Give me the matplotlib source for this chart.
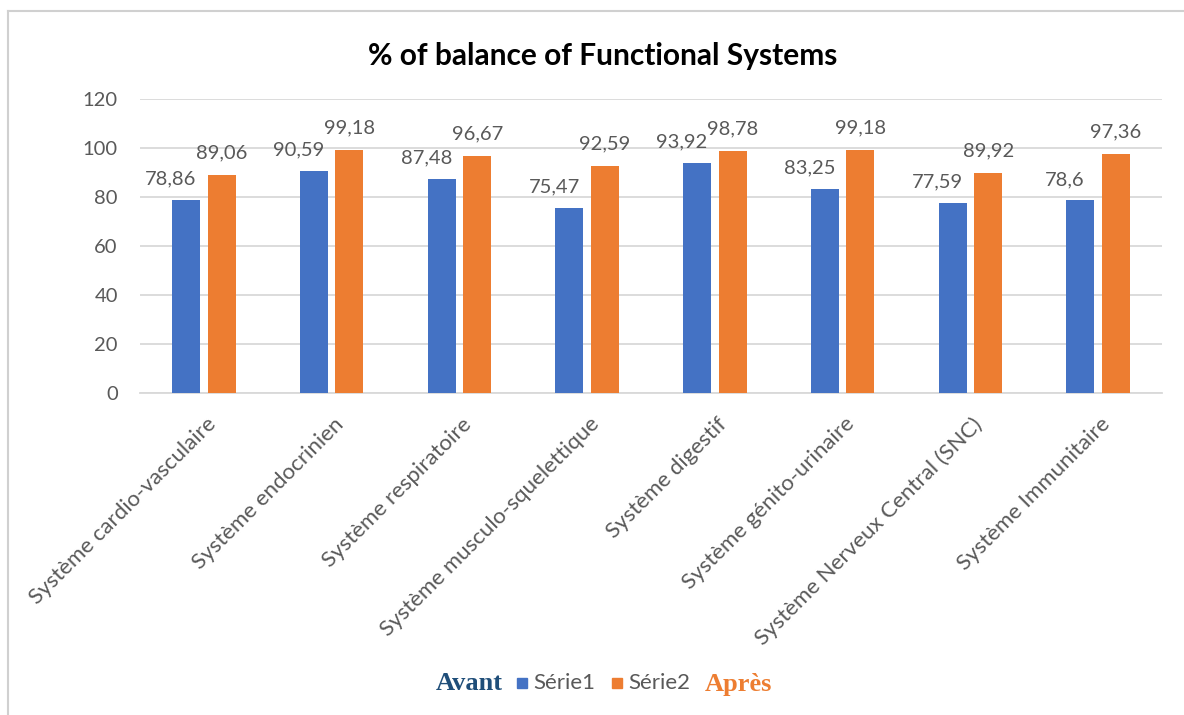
import matplotlib
matplotlib.use("Agg")
import matplotlib.pyplot as plt
import numpy as np
from matplotlib.lines import Line2D
from matplotlib.patches import Rectangle
from matplotlib.transforms import ScaledTranslation

categories = [
    "Système cardio-vasculaire",
    "Système endocrinien",
    "Système respiratoire",
    "Système musculo-squelettique",
    "Système digestif",
    "Système génito-urinaire",
    "Système Nerveux Central (SNC)",
    "Système Immunitaire",
]
serie1 = [78.86, 90.59, 87.48, 75.47, 93.92, 83.25, 77.59, 78.6]
serie2 = [89.06, 99.18, 96.67, 92.59, 98.78, 99.18, 89.92, 97.36]
label1 = ["78,86", "90,59", "87,48", "75,47", "93,92", "83,25", "77,59", "78,6"]
label2 = ["89,06", "99,18", "96,67", "92,59", "98,78", "99,18", "89,92", "97,36"]
yticks = [0, 20, 40, 60, 80, 100, 120]

BLUE = "#4472C4"
ORANGE = "#ED7D31"
GREY = "#595959"
GRID = "#D9D9D9"
FONT = "Lato"

fig = plt.figure(figsize=(11.84, 7.15), dpi=100)
ax = fig.add_axes([140 / 1184, 1 - 393 / 715, (1162 - 140) / 1184, (393 - 99) / 715])

x = np.arange(len(categories))
w = 0.22
off = 0.139
b1 = ax.bar(x - off, serie1, w, color=BLUE, zorder=3)
b2 = ax.bar(x + off, serie2, w, color=ORANGE, zorder=3)

for rect, txt in zip(b1, label1):
    ax.annotate(txt, (rect.get_x() + rect.get_width() / 2, rect.get_height()),
                xytext=(-11, 15), textcoords="offset points", ha="center", va="center",
                fontsize=14.5, color=GREY, family=FONT)
for rect, txt in zip(b2, label2):
    ax.annotate(txt, (rect.get_x() + rect.get_width() / 2, rect.get_height()),
                xytext=(0, 16), textcoords="offset points", ha="center", va="center",
                fontsize=14.5, color=GREY, family=FONT)

ax.set_xlim(-0.5, len(categories) - 0.5)
ax.set_ylim(0, 120)
ax.set_yticks(yticks)
ax.set_yticklabels([str(v) for v in yticks], fontsize=14.5, color=GREY, family=FONT)
ax.yaxis.grid(True, color=GRID, linewidth=1.3, zorder=0)
ax.set_axisbelow(True)
for s in ["top", "right", "left"]:
    ax.spines[s].set_visible(False)
ax.spines["bottom"].set_color(GRID)
ax.spines["bottom"].set_linewidth(1.3)
ax.tick_params(axis="y", length=0, pad=16)
ax.tick_params(axis="x", length=0, pad=0)

ax.set_xticks(x)
ax.set_xticklabels(categories, rotation=45, ha="right", va="center",
                   rotation_mode="anchor", fontsize=16, color=GREY, family=FONT)
for lbl in ax.get_xticklabels():
    lbl.set_transform(lbl.get_transform() + ScaledTranslation(9 / 100, -28 / 100, fig.dpi_scale_trans))

fig.text(603 / 1184, 1 - 56 / 715, "% of balance of Functional Systems",
         ha="center", va="center", fontsize=21.5, fontweight="bold", family=FONT, color="black")

# outer chart frame (top and left edges)
fig.add_artist(Line2D([8 / 1184, 1], [1 - 11 / 715, 1 - 11 / 715], color="#D0D0D0", linewidth=1.5))
fig.add_artist(Line2D([8 / 1184, 8 / 1184], [0, 1 - 11 / 715], color="#D0D0D0", linewidth=1.5))

# legend row
ly = 1 - 683 / 715
fig.text(469 / 1184, ly, "Avant", ha="center", va="center", fontsize=19, fontweight="bold",
         family="Liberation Serif", color="#1F4E79")
fig.patches.append(Rectangle((517 / 1184, ly - 5 / 715), 10 / 1184, 10 / 715,
                             transform=fig.transFigure, color=BLUE))
fig.text(533 / 1184, ly, "Série1", ha="left", va="center", fontsize=16, family=FONT, color=GREY)
fig.patches.append(Rectangle((612 / 1184, ly - 5 / 715), 10 / 1184, 10 / 715,
                             transform=fig.transFigure, color=ORANGE))
fig.text(628 / 1184, ly, "Série2", ha="left", va="center", fontsize=16, family=FONT, color=GREY)
fig.text(738 / 1184, ly - 2 / 715, "Après", ha="center", va="center", fontsize=19, fontweight="bold",
         family="Liberation Serif", color=ORANGE)

fig.savefig("out.png", dpi=100, facecolor="white")
